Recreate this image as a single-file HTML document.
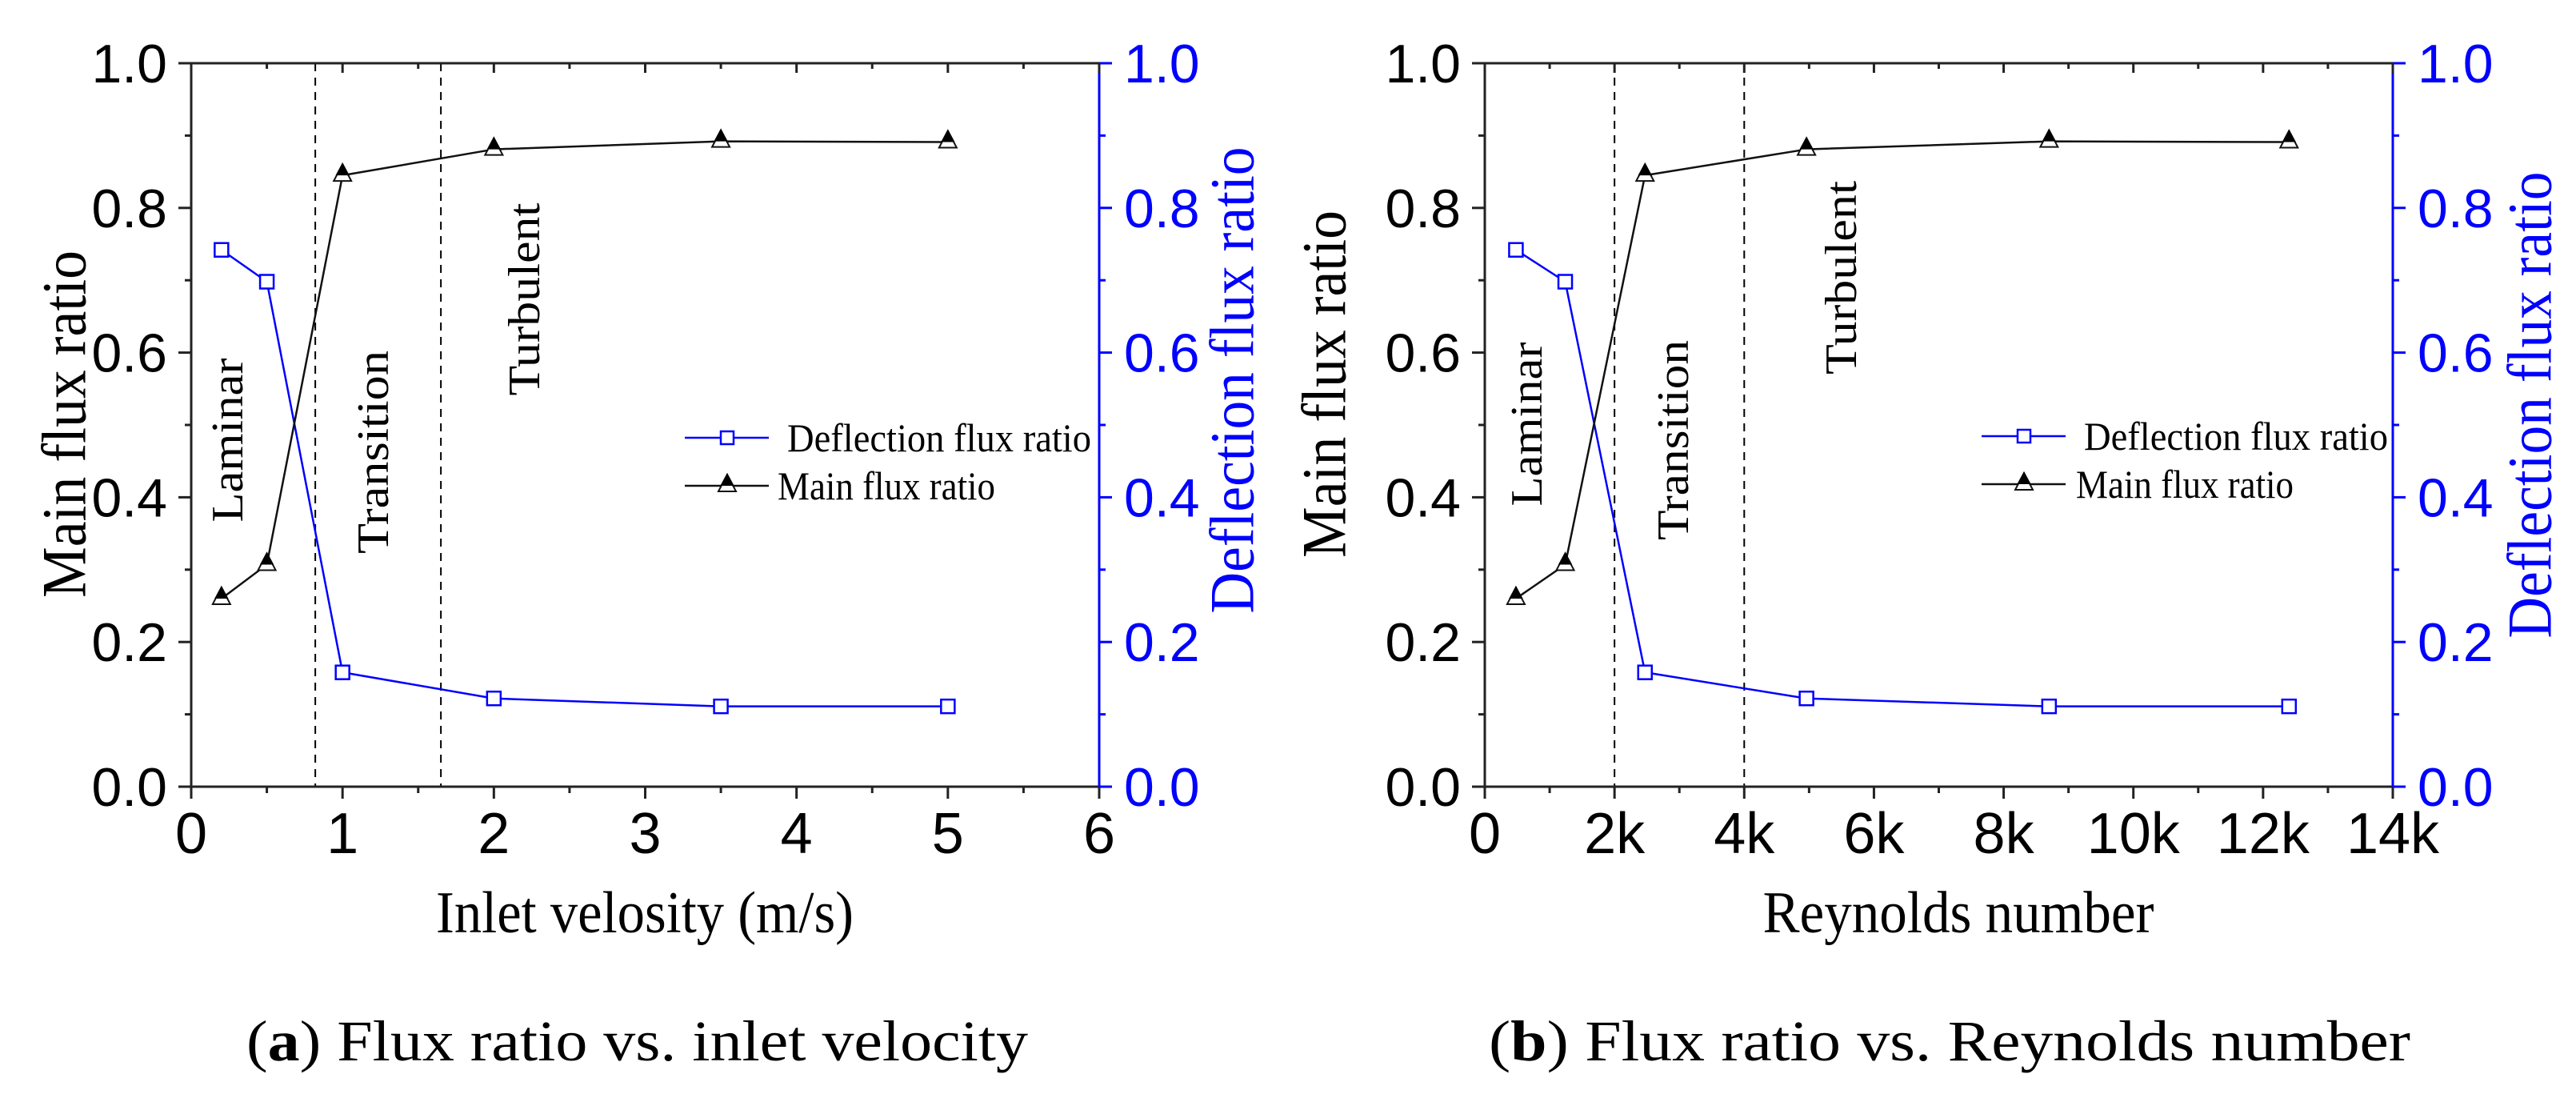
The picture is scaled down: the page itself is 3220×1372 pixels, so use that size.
<!DOCTYPE html>
<html><head><meta charset="utf-8">
<style>
html,body{margin:0;padding:0;background:#fff;}
svg{display:block;}
text{font-family:"Liberation Sans",Arial,sans-serif;}
.serif{font-family:"Liberation Serif","Times New Roman",serif;}
</style></head>
<body>
<svg id="fig" width="3220" height="1372" viewBox="0 0 3220 1372" xmlns="http://www.w3.org/2000/svg"></svg>
<script>
// ---- data ----
const velocityX = [0.2, 0.5, 1, 2, 3.5, 5];
const reynoldsX = [480, 1240, 2470, 4960, 8700, 12400];
const mainFlux = [0.26, 0.307, 0.845, 0.881, 0.892, 0.891];
const deflectionFlux = [0.742, 0.698, 0.158, 0.122, 0.111, 0.111];
const velocityTicks = [0, 1, 2, 3, 4, 5, 6];
const velocityTickLabels = ["0", "1", "2", "3", "4", "5", "6"];
const reynoldsTicks = [0, 2000, 4000, 6000, 8000, 10000, 12000, 14000];
const reynoldsTickLabels = ["0", "2k", "4k", "6k", "8k", "10k", "12k", "14k"];
const yTicks = [0, 0.2, 0.4, 0.6, 0.8, 1.0];
const yTickLabels = ["0.0", "0.2", "0.4", "0.6", "0.8", "1.0"];
const velocityRegimes = [0.82, 1.65];
const reynoldsRegimes = [2000, 4000];

const NS = "http://www.w3.org/2000/svg";
const svg = document.getElementById('fig');
function mk(tag, attrs, parent, txt) {
  const e = document.createElementNS(NS, tag);
  for (const k in attrs) e.setAttribute(k, attrs[k]);
  if (txt !== undefined) e.textContent = txt;
  (parent || svg).appendChild(e);
  return e;
}

function drawPanel(cfg) {
  const g = mk('g', {});
  
  
  const L = cfg.left, R = cfg.left + 1135, T = 79, B = 983;
  const xs = v => L + (v - cfg.xmin) / (cfg.xmax - cfg.xmin) * (R - L);
  const ys = v => B - v * (B - T);

  cfg.regimes.forEach(v => {
    const l = mk('line', {x1: xs(v), x2: xs(v), y1: T, y2: B, stroke: '#000', 'stroke-width': 2, 'stroke-dasharray': '10,8'}, g);
    
    
  });

  const ax = mk('g', {}, g);
  
  
  mk('line', {x1: L, x2: R, y1: B, y2: B, stroke: '#222', 'stroke-width': 3}, ax);
  mk('line', {x1: L, x2: R, y1: T, y2: T, stroke: '#222', 'stroke-width': 3}, ax);
  mk('line', {x1: L, y1: T, x2: L, y2: B, stroke: '#222', 'stroke-width': 3}, ax);
  mk('line', {x1: R, y1: T, x2: R, y2: B + 1, stroke: '#0000ff', 'stroke-width': 3}, ax);

  cfg.xticks.forEach((v, i) => {
    const x = xs(v);
    mk('line', {x1: x, x2: x, y1: B, y2: B + 15, stroke: '#222', 'stroke-width': 3}, ax);
    mk('line', {x1: x, x2: x, y1: T, y2: T + 12, stroke: '#222', 'stroke-width': 3}, ax);
    if (i < cfg.xticks.length - 1) {
      const xm = xs((v + cfg.xticks[i + 1]) / 2);
      mk('line', {x1: xm, x2: xm, y1: B, y2: B + 8, stroke: '#222', 'stroke-width': 3}, ax);
      mk('line', {x1: xm, x2: xm, y1: T, y2: T + 7, stroke: '#222', 'stroke-width': 3}, ax);
    }
    const t = mk('text', {x: x, y: 1066, 'font-size': 72, 'text-anchor': 'middle', fill: '#000'}, ax, cfg.xlabels[i]);
    
    
  });
  yTicks.forEach((v, i) => {
    const y = ys(v);
    mk('line', {x1: L - 16, x2: L, y1: y, y2: y, stroke: '#222', 'stroke-width': 3}, ax);
    mk('line', {x1: R, x2: R + 16, y1: y, y2: y, stroke: '#0000ff', 'stroke-width': 3}, ax);
    if (i < yTicks.length - 1) {
      const ym = ys(v + 0.1);
      mk('line', {x1: L - 8, x2: L, y1: ym, y2: ym, stroke: '#222', 'stroke-width': 3}, ax);
      mk('line', {x1: R, x2: R + 8, y1: ym, y2: ym, stroke: '#0000ff', 'stroke-width': 3}, ax);
    }
    const t = mk('text', {x: L - 30, y: y + 24, 'font-size': 68, 'text-anchor': 'end', fill: '#000'}, ax, yTickLabels[i]);
    
    
    const t2 = mk('text', {x: R + 31, y: y + 24, 'font-size': 68, 'text-anchor': 'start', fill: '#0000ff'}, ax, yTickLabels[i]);
    
    
  });

  let t = mk('text', {x: 0, y: 0, 'font-size': 78, 'text-anchor': 'middle', fill: '#000', class: 'serif', transform: `translate(${cfg.lyX},${cfg.lyY}) rotate(-90)`, textLength: 434, lengthAdjust: 'spacingAndGlyphs', 'dominant-baseline': 'central'}, g, 'Main flux ratio');
  
  
  t = mk('text', {x: 0, y: 0, 'font-size': 78, 'text-anchor': 'middle', fill: '#0000ff', class: 'serif', transform: `translate(${cfg.ryX},${cfg.ryY}) rotate(-90)`, textLength: 583, lengthAdjust: 'spacingAndGlyphs', 'dominant-baseline': 'central'}, g, 'Deflection flux ratio');
  
  
  t = mk('text', {x: cfg.xtX, y: 1165, 'font-size': 74, 'text-anchor': 'middle', fill: '#000', class: 'serif', textLength: cfg.xtLen, lengthAdjust: 'spacingAndGlyphs'}, g, cfg.xtitle);
  
  

  cfg.regimeLabels.forEach(r => {
    const rt = mk('text', {x: 0, y: 0, 'font-size': 56, 'text-anchor': 'middle', fill: '#000', class: 'serif', 'dominant-baseline': 'central', transform: `translate(${r.x},${r.y}) rotate(-90)`, textLength: r.len, lengthAdjust: 'spacingAndGlyphs'}, g, r.t);
    
    
  });

  const dpts = cfg.xs.map((v, i) => xs(v) + ',' + ys(deflectionFlux[i])).join(' ');
  let pl = mk('polyline', {points: dpts, fill: 'none', stroke: '#0000ff', 'stroke-width': 2.5}, g);
  
  
  cfg.xs.forEach((v, i) => {
    const m = mk('rect', {x: xs(v) - 8.5, y: ys(deflectionFlux[i]) - 8.5, width: 17, height: 17, fill: '#fff', stroke: '#0000ff', 'stroke-width': 2.5}, g);
    
    
  });
  const mpts = cfg.xs.map((v, i) => xs(v) + ',' + ys(mainFlux[i])).join(' ');
  pl = mk('polyline', {points: mpts, fill: 'none', stroke: '#111', 'stroke-width': 2.5}, g);
  
  
  cfg.xs.forEach((v, i) => {
    const mg = mk('g', {}, g);
    
    
    triangle(mg, xs(v), ys(mainFlux[i]));
  });

  const lg = mk('g', {}, g);
  
  
  const lx = cfg.legX, ly = cfg.legY;
  const e1 = mk('g', {}, lg);
  
  
  mk('line', {x1: lx, x2: lx + 105, y1: ly, y2: ly, stroke: '#0000ff', 'stroke-width': 2.5}, e1);
  mk('rect', {x: lx + 53 - 8, y: ly - 8, width: 16, height: 16, fill: '#fff', stroke: '#0000ff', 'stroke-width': 2.5}, e1);
  mk('text', {x: lx + 128, y: ly + 17, 'font-size': 50, class: 'serif', fill: '#000', textLength: 380, lengthAdjust: 'spacingAndGlyphs'}, e1, 'Deflection flux ratio');
  const e2 = mk('g', {}, lg);
  
  
  mk('line', {x1: lx, x2: lx + 105, y1: ly + 60, y2: ly + 60, stroke: '#111', 'stroke-width': 2.5}, e2);
  triangle(e2, lx + 53, ly + 60);
  mk('text', {x: lx + cfg.mainTxtOff, y: ly + 77, 'font-size': 50, class: 'serif', fill: '#000', textLength: 272, lengthAdjust: 'spacingAndGlyphs'}, e2, 'Main flux ratio');

  const cap = mk('text', {x: cfg.capX, y: 1325, 'font-size': 72, class: 'serif', fill: '#000', textLength: cfg.capLen, lengthAdjust: 'spacingAndGlyphs'}, svg);
  
  
  mk('tspan', {}, cap, '(');
  mk('tspan', {'font-weight': 'bold'}, cap, cfg.capLetter);
  mk('tspan', {}, cap, ') ' + cfg.capText);
}

function triangle(parent, cx, cy) {
  mk('polygon', {points: `${cx - 11},${cy + 7} ${cx + 11},${cy + 7} ${cx},${cy - 14}`, fill: '#fff', stroke: '#111', 'stroke-width': 2}, parent);
  mk('polygon', {points: `${cx - 7},${cy - 1} ${cx + 7},${cy - 1} ${cx},${cy - 14}`, fill: '#000', stroke: '#000', 'stroke-width': 2}, parent);
}

drawPanel({
  name: 'panel-a-velocity', left: 239, xmin: 0, xmax: 6,
  xticks: velocityTicks, xlabels: velocityTickLabels, xs: velocityX,
  regimes: velocityRegimes,
  lyX: 80, lyY: 530, ryX: 1540, ryY: 475,
  xtitle: 'Inlet velosity (m/s)', xtX: 806, xtLen: 522,
  regimeLabels: [{t: 'Laminar', x: 285, y: 550, len: 205}, {t: 'Transition', x: 467, y: 565, len: 254}, {t: 'Turbulent', x: 656, y: 374, len: 241}],
  legX: 856, legY: 547, mainTxtOff: 116,
  capX: 308, capLen: 977, capLetter: 'a', capText: 'Flux ratio vs. inlet velocity'
});
drawPanel({
  name: 'panel-b-reynolds', left: 1856, xmin: 0, xmax: 14000,
  xticks: reynoldsTicks, xlabels: reynoldsTickLabels, xs: reynoldsX,
  regimes: reynoldsRegimes,
  lyX: 1655, lyY: 480, ryX: 3162, ryY: 506,
  xtitle: 'Reynolds number', xtX: 2448, xtLen: 489,
  regimeLabels: [{t: 'Laminar', x: 1909, y: 530, len: 205}, {t: 'Transition', x: 2092, y: 550, len: 250}, {t: 'Turbulent', x: 2302, y: 347, len: 242}],
  legX: 2477, legY: 545, mainTxtOff: 118,
  capX: 1861, capLen: 1152, capLetter: 'b', capText: 'Flux ratio vs. Reynolds number'
});
</script>
</body></html>
